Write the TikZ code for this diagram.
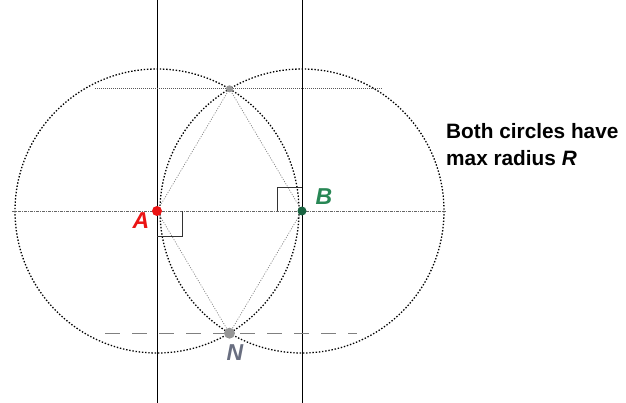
\documentclass[tikz,border=0pt]{standalone}
\usepackage{fontspec}
\setmainfont{Liberation Sans}
\definecolor{Ared}{RGB}{235,20,20}
\definecolor{Bgreen}{RGB}{40,135,85}
\definecolor{Bdot}{RGB}{25,100,65}
\definecolor{Ngray}{RGB}{105,110,128}
\definecolor{Pgray}{RGB}{150,150,150}
\begin{document}
\begin{tikzpicture}[x=1pt,y=-1pt,
  circ/.style={black, line width=1.3pt, dash pattern=on 1.4pt off 1.8pt},
  chord/.style={gray, line width=0.7pt, dash pattern=on 1pt off 1.5pt},
  axis/.style={gray!80!black, line width=0.6pt, dash pattern=on 3pt off 1pt on 1pt off 1pt},
  guide/.style={gray!70!black, line width=0.6pt, dash pattern=on 1pt off 1pt},
  guidedash/.style={gray, line width=0.5pt, dash pattern=on 15pt off 12pt},
  vline/.style={black, line width=0.9pt},
  rightangle/.style={black!80, line width=0.9pt},
  ptlabel/.style={font=\fontsize{23}{25}\selectfont\bfseries\itshape, inner sep=0pt},
  note/.style={font=\fontsize{20.8}{27}\selectfont\bfseries, align=left, inner sep=0pt, anchor=north west}
]
\useasboundingbox (0,0) rectangle (626,403);
\fill[white] (0,0) rectangle (626,403);

\coordinate (A) at (157,211);
\coordinate (B) at (302,211);
\coordinate (T) at (229.5,88.8);
\coordinate (N) at (229.5,333.2);
\coordinate (Atop) at (157,0);
\coordinate (Abot) at (157,403);
\coordinate (Btop) at (302,0);
\coordinate (Bbot) at (302,403);
\coordinate (Hl) at (12,211);
\coordinate (Hr) at (446,211);
\coordinate (Tl) at (95,88.8);
\coordinate (Tr) at (383,88.8);
\coordinate (Nl) at (105,333.2);
\coordinate (Nr) at (357,333.2);

% circles
\draw[circ] (A) circle[radius=142];
\draw[circ] (B) circle[radius=142];

% vertical lines
\draw[vline] (Atop) -- (Abot);
\draw[vline] (Btop) -- (Bbot);

% horizontal guides
\draw[axis] (Hl) -- (Hr);
\draw[guide] (Tl) -- (Tr);
\draw[guidedash] (Nl) -- (Nr);

% chords
\draw[chord] (T) -- (A) -- (N) -- (B) -- (T);

% right angle marks
\draw[rightangle] (A) ++(0,25) -- ++(25,0) -- ++(0,-25);
\draw[rightangle] (B) ++(-25,0) -- ++(0,-24) -- ++(25,0);

% points
\fill[Ared] (A) circle[radius=5];
\fill[Bdot] (B) circle[radius=4.5];
\fill[Pgray] (T) circle[radius=3.5];
\fill[Pgray] (N) circle[radius=5.5];

% labels
\node[ptlabel, text=Ared] (LA) at (141,220.5) {A};
\node[ptlabel, text=Bgreen] (LB) at (324,196.5) {B};
\node[ptlabel, text=Ngray] (LN) at (235,352.5) {N};

\node[note] (txt) at (446,123) {Both circles have\\max radius \textit{R}};
\end{tikzpicture}
\end{document}
